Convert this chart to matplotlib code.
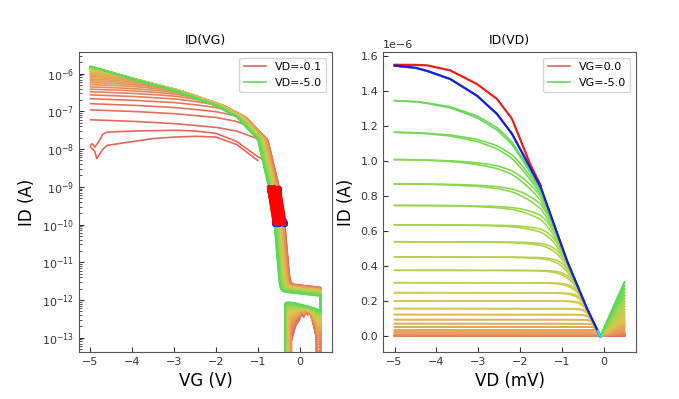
import numpy as np
import matplotlib.pyplot as plt
from matplotlib.colors import LinearSegmentedColormap

# ---------------- ID(VD) panel (values in uA) ----------------
vg_right = [0.0, -0.2, -0.4, -0.6, -0.8, -1.0, -1.2, -1.4, -1.6, -1.8, -2.0, -2.2, -2.4,
            -2.6, -2.8, -3.0, -3.2, -3.4, -3.6, -3.8, -4.0, -4.2, -4.4, -4.6, -4.8, -5.0]
sat_right = [0.0, 0.0005, 0.001, 0.002, 0.005, 0.011, 0.023, 0.036, 0.053, 0.072, 0.095,
             0.124, 0.158, 0.202, 0.249, 0.306, 0.377, 0.453, 0.540, 0.637, 0.748, 0.871,
             1.010, 1.166, 1.347, 1.545]
# blue line (VG=-5 return sweep)
env_vd = [-5.0, -4.5, -4.23, -3.67, -3.03, -2.55, -2.19, -1.75, -1.5, -0.88, -0.4, -0.08]
env_id = [1.547, 1.535, 1.518, 1.471, 1.376, 1.271, 1.157, 0.96, 0.85, 0.434, 0.16, 0.0]
# red line (VG=-5 forward sweep)
top_vd = [-5.0, -4.5, -4.23, -3.67, -3.03, -2.55, -2.19, -1.75, -1.5]
top_id = [1.552, 1.551, 1.549, 1.52, 1.442, 1.357, 1.243, 0.98, 0.86]
vd_vertex = -0.08
fan_top = 0.31   # ID at VD=+0.5 for VG=-5

# ---------------- ID(VG) panel ----------------
vd_left = [round(-0.1 * i, 1) for i in range(1, 51)]
# VD=-5 curve (log10 A)
green_vg = [-5.0, -4.0, -3.0, -2.0, -1.5, -1.0, -0.75, -0.6, -0.53, -0.45, -0.35, 0.5]
green_log = [-5.81, -6.15, -6.45, -6.85, -7.15, -7.75, -8.95, -10.0, -11.0, -12.5, -14.0, -20.0]
# slow decay of the linear-region curves (log10 offset)
flat_vg = [-5.0, -4.0, -3.0, -2.0, -1.5, -1.0, -0.5, 0.5]
flat_log = [0.0, -0.04, -0.1, -0.2, -0.3, -0.5, -0.65, -1.0]
# VD=-0.1 curve, two sweeps (log10 A)
low_up_vg = [-5.0, -4.95, -4.9, -4.8, -4.7, -4.6, -4.0, -3.0, -2.5, -2.0, -1.5, -1.0,
             -0.8, -0.5, 0.5]
low_up_log = [-7.9, -7.85, -7.95, -7.8, -7.6, -7.55, -7.52, -7.5, -7.52, -7.58, -7.8, -8.2,
              -8.3, -8.4, -8.8]
low_dn_vg = [-5.0, -4.9, -4.85, -4.7, -4.6, -4.0, -3.5, -3.0, -2.5, -2.0, -1.5, -1.0]
low_dn_log = [-7.95, -8.05, -8.25, -8.0, -7.9, -7.8, -7.72, -7.68, -7.66, -7.68, -7.88, -8.3]
shift_red = 0.25
floor_red, floor_green = 2.7e-12, 1.6e-12
# return sweep below the floor
ret_vg = [0.5, 0.45, 0.42, 0.4, 0.35, 0.3, 0.25, 0.2, 0.15, 0.1, 0.05, 0.0, -0.05, -0.1,
          -0.15, -0.2, -0.25, -0.3, -0.35, -0.4, -0.45]
ret_green = [5.2e-13, 5.5e-13, 5.7e-13, 5.8e-13, 6.0e-13, 6.3e-13, 6.5e-13, 6.8e-13, 7.0e-13,
             7.2e-13, 7.5e-13, 7.7e-13, 8.0e-13, 8.2e-13, 8.4e-13, 8.6e-13, 8.7e-13, 8.7e-13,
             8.0e-13, 0, 0]
ret_red = [0, 0, 0, 1.0e-13, 1.8e-13, 3e-13, 4.5e-13, 4e-13, 5e-13, 3.5e-13, 4.5e-13, 3e-13,
           2.5e-13, 2e-13, 1.2e-13, 0.8e-13, 0, 0, 0, 0, 0]

cmap = LinearSegmentedColormap.from_list(
    'rg', ['#e2665a', '#e69c55', '#dcc64e', '#a9d54c', '#5bd95b'])


def softmin(a, b, p):
    with np.errstate(divide='ignore', invalid='ignore', over='ignore'):
        return (a ** -p + b ** -p) ** (-1.0 / p)


fig = plt.figure(figsize=(6.79, 3.99), dpi=100)
ax1 = fig.add_axes([0.1163, 0.1178, 0.3726, 0.7519])
ax2 = fig.add_axes([0.5641, 0.1178, 0.3726, 0.7519])

# ---- left
vg = np.linspace(-5, 0.5, 276)
G5 = 10 ** green_log[0]
n = len(vd_left)
fwd_curves = []
for k, vd in enumerate(vd_left):
    t = k / (n - 1)
    c = cmap(t)
    s = shift_red * (1 - t)
    G = 10 ** np.interp(vg - s, green_vg, green_log)
    fl = (floor_red * (1 - t) + floor_green * t) * 10 ** (-0.1 * (vg + 0.3) / 0.8)
    if k == 0:
        L = 10 ** np.interp(vg, low_up_vg, low_up_log)
    else:
        lev = np.interp(vd, env_vd, env_id) * 1e-6
        Lp = np.maximum(lev ** -4 - G5 ** -4, 1e-60) ** -0.25
        L = Lp * 10 ** np.interp(vg, flat_vg, flat_log)
    I = softmin(L, G, 4) + fl
    fwd_curves.append(I)
    cross = -0.2 - 0.22 * t
    rv = np.array(ret_vg)
    ri = (1 - t) * np.array(ret_red) + t * np.array(ret_green)
    ri = np.where(rv < cross, 0.0, ri)
    xs = np.concatenate([vg, rv])
    ys = np.concatenate([I, ri])
    lab = 'VD=%.1f' % vd if k in (0, n - 1) else None
    ax1.plot(xs, ys, color=c, lw=1.2, label=lab)
    if k == 0:
        v2 = np.linspace(-5.0, -1.0, 161)
        ax1.plot(v2, 10 ** np.interp(v2, low_dn_vg, low_dn_log), color=c, lw=1.2)

# threshold band highlighted
for I in fwd_curves:
    m = (I >= 1e-10) & (I <= 1e-9) & (vg > -1.5)
    idx = np.where(m)[0]
    if len(idx):
        ax1.plot(vg[[idx[0], idx[-1]]], I[[idx[0], idx[-1]]], 'o', color='#2020d0', ms=2.5)
for I in fwd_curves:
    m = (I >= 1e-10) & (I <= 1e-9) & (vg > -1.5)
    ax1.plot(vg, np.where(m, I, np.nan), color='#ff0000', lw=2.5)

ax1.set_yscale('log')
ax1.set_xlim(-5.275, 0.775)
ax1.set_ylim(4.17e-14, 3.76e-6)
ax1.set_title('ID(VG)', fontsize=9)
ax1.set_xlabel('VG (V)', fontsize=12)
ax1.set_ylabel('ID (A)', fontsize=12)
ax1.legend(loc='upper right', fontsize=8)

# ---- right
vdg = np.linspace(-5, 0.5, 276)
env = np.interp(vdg, env_vd, env_id)
B5 = env_id[0]
m = len(sat_right)
for k in range(m):
    lev = sat_right[k]
    c = cmap(k / (m - 1))
    endv = fan_top * np.sqrt(lev / sat_right[-1])
    fan = endv * (vdg - vd_vertex) / (0.5 - vd_vertex)
    lab = 'VG=%.1f' % vg_right[k] if k in (0, m - 1) else None
    for p in (5.0, 3.8):
        if lev > 0:
            Lp = np.maximum(lev ** -p - B5 ** -p, 1e-60) ** (-1.0 / p)
            y = softmin(Lp, env, p)
        else:
            y = np.zeros_like(vdg)
        y = np.where(vdg <= vd_vertex, y, fan)
        ax2.plot(vdg, y * 1e-6, color=c, lw=1.2, label=lab if p == 5.0 else None)

tv = np.linspace(-5, -1.5, 80)
ax2.plot(tv, np.interp(tv, top_vd, top_id) * 1e-6, color='#e8201a', lw=1.6)
bv = np.linspace(-5, vd_vertex, 200)
ax2.plot(bv, np.interp(bv, env_vd, env_id) * 1e-6, color='#1a1ae0', lw=1.6)
cv = np.linspace(-0.14, -0.04, 10)
ax2.plot(cv, np.interp(cv, env_vd, env_id) * 1e-6, color='#20e0f0', lw=1.6)

ax2.set_xlim(-5.275, 0.775)
ax2.set_ylim(-0.09e-6, 1.625e-6)
ax2.set_title('ID(VD)', fontsize=9)
ax2.set_xlabel('VD (mV)', fontsize=12)
ax2.set_ylabel('ID (A)', fontsize=12)
ax2.legend(loc='upper right', fontsize=8)
ax2.yaxis.get_offset_text().set_fontsize(8)

for ax in (ax1, ax2):
    ax.tick_params(which='both', direction='in', labelsize=8, colors='#333333')
    for sp in ax.spines.values():
        sp.set_color('#555555')

fig.savefig('out.png', dpi=100)
